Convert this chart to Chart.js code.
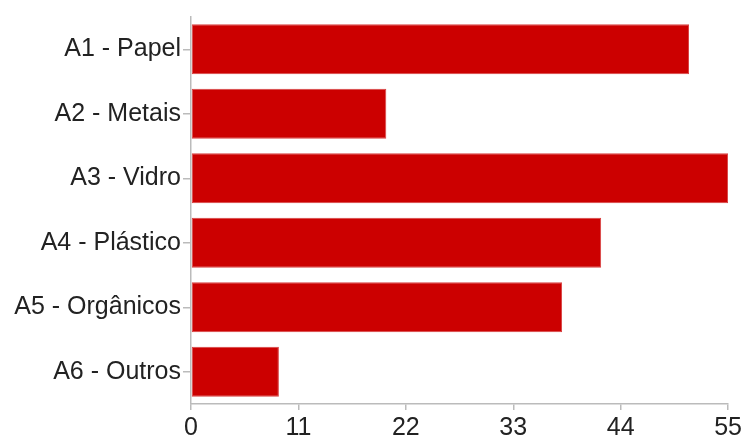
<!DOCTYPE html>
<html>
<head>
<meta charset="utf-8">
<script src="https://cdn.jsdelivr.net/npm/chart.js@4/dist/chart.umd.min.js"></script>
<style>
html,body{margin:0;padding:0;background:#fff;}
#wrap{width:745px;height:438px;position:relative;}
</style>
</head>
<body>
<div id="wrap"><canvas id="c"></canvas></div>
<script>
const categories = ["A1 - Papel", "A2 - Metais", "A3 - Vidro", "A4 - Plástico", "A5 - Orgânicos", "A6 - Outros"];
const values = [51, 20, 55, 42, 38, 9];
const xTicks = [0, 11, 22, 33, 44, 55];

const FONT = { family: 'Liberation Sans, Arial, sans-serif', size: 25 };

new Chart(document.getElementById('c'), {
  type: 'bar',
  data: {
    labels: categories,
    datasets: [{
      data: values,
      backgroundColor: '#cc0000',
      borderColor: '#d84040',
      borderWidth: 1,
      borderSkipped: false,
      categoryPercentage: 0.86,
      barPercentage: 0.9
    }]
  },
  options: {
    indexAxis: 'y',
    responsive: true,
    maintainAspectRatio: false,
    animation: false,
    layout: { padding: { top: 13, right: 16, left: 0, bottom: 0 } },
    plugins: { legend: { display: false }, tooltip: { enabled: false } },
    scales: {
      x: {
        min: 0, max: 55,
        afterBuildTicks: (axis) => { axis.ticks = xTicks.map(v => ({ value: v })); },
        afterFit: (axis) => { axis.height = 34; },
        grid: { drawOnChartArea: false, drawTicks: true, tickLength: 6, color: '#bbbbbb', lineWidth: 1.5 },
        border: { color: '#bbbbbb', width: 1.5 },
        ticks: { color: '#222', font: FONT, padding: 3, maxRotation: 0 }
      },
      y: {
        afterFit: (axis) => { axis.width = 191; },
        grid: { offset: false, drawOnChartArea: false, drawTicks: true, tickLength: 8, color: '#bbbbbb', lineWidth: 1.5 },
        border: { color: '#bbbbbb', width: 1.5 },
        ticks: { color: '#222', font: FONT, padding: 2 }
      }
    }
  }
});
</script>
</body>
</html>
